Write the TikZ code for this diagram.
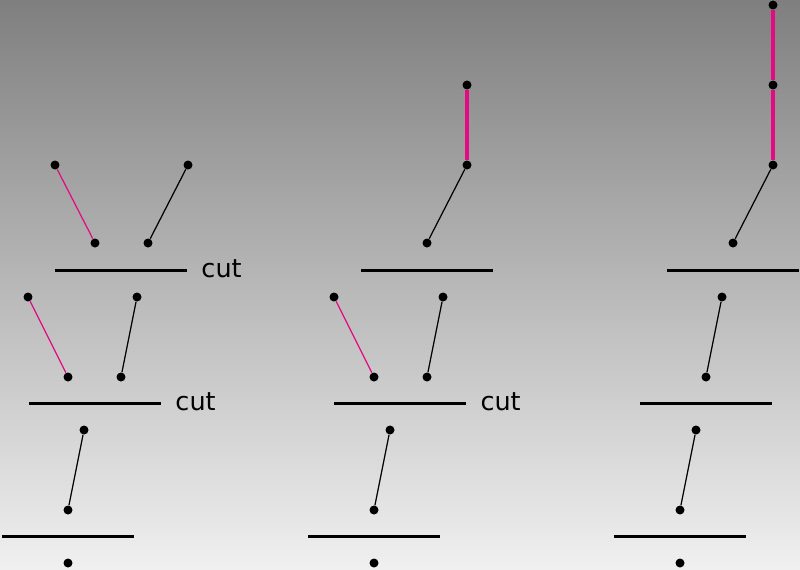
\documentclass[tikz,border=0pt]{standalone}
\usepackage{fontspec}
\setmainfont{DejaVu Sans}
\usetikzlibrary{calc}
\definecolor{linkpink}{RGB}{230,10,130}
\definecolor{bgtop}{RGB}{127,127,127}
\definecolor{bgbottom}{RGB}{240,240,240}

\begin{document}
\begin{tikzpicture}[x=0.02cm, y=-0.02cm]
  \tikzset{
    joint/.style={circle, fill=black, inner sep=0pt, minimum size=0.18cm},
    cutline/.style={line width=1.7pt, black},
    thinlink/.style={line width=0.7pt},
    fixedlink/.style={line width=1.8pt, linkpink},
    cutlabel/.style={anchor=base west, inner sep=0pt, font=\fontsize{14.5}{17}\selectfont},
  }
  \shade[top color=bgtop, bottom color=bgbottom] (0,0) rectangle (800,569);
  \useasboundingbox (0,0) rectangle (800,569);
  % left column
  \node[joint] (A1) at (55,165) {};
  \node[joint] (A2) at (188,165) {};
  \node[joint] (A3) at (95,243) {};
  \node[joint] (A4) at (148,243) {};
  \coordinate (AL) at (55,270);
  \coordinate (AR) at (187,270);
  \node[joint] (B1) at (28,297) {};
  \node[joint] (B2) at (137,297) {};
  \node[joint] (B3) at (68,377) {};
  \node[joint] (B4) at (121,377) {};
  \coordinate (BL) at (29,403);
  \coordinate (BR) at (161,403);
  \node[joint] (C1) at (84,430) {};
  \node[joint] (C2) at (68,510) {};
  \coordinate (CL) at (2,536);
  \coordinate (CR) at (134,536);
  \node[joint] (C3) at (68,563) {};
  \draw[thinlink, linkpink] (A1)--(A3);
  \draw[thinlink] (A2)--(A4);
  \draw[cutline] (AL)--(AR) node[cutlabel, xshift=0.26cm, yshift=-0.14cm] (cutA) {cut};
  \draw[thinlink, linkpink] (B1)--(B3);
  \draw[thinlink] (B2)--(B4);
  \draw[cutline] (BL)--(BR) node[cutlabel, xshift=0.26cm, yshift=-0.14cm] (cutB) {cut};
  \draw[thinlink] (C1)--(C2);
  \draw[cutline] (CL)--(CR);
  % middle column
  \node[joint] (D0) at (467,85) {};
  \node[joint] (D1) at (467,165) {};
  \node[joint] (D2) at (427,243) {};
  \coordinate (DL) at (361,270);
  \coordinate (DR) at (493,270);
  \node[joint] (E1) at (334,297) {};
  \node[joint] (E2) at (443,297) {};
  \node[joint] (E3) at (374,377) {};
  \node[joint] (E4) at (427,377) {};
  \coordinate (EL) at (334,403);
  \coordinate (ER) at (466,403);
  \node[joint] (F1) at (390,430) {};
  \node[joint] (F2) at (374,510) {};
  \coordinate (FL) at (308,536);
  \coordinate (FR) at (440,536);
  \node[joint] (F3) at (374,563) {};
  \draw[fixedlink] (D0)--(D1);
  \draw[thinlink] (D1)--(D2);
  \draw[cutline] (DL)--(DR);
  \draw[thinlink, linkpink] (E1)--(E3);
  \draw[thinlink] (E2)--(E4);
  \draw[cutline] (EL)--(ER) node[cutlabel, xshift=0.26cm, yshift=-0.14cm] (cutE) {cut};
  \draw[thinlink] (F1)--(F2);
  \draw[cutline] (FL)--(FR);
  % right column
  \node[joint] (G0) at (773,5) {};
  \node[joint] (G1) at (773,85) {};
  \node[joint] (G2) at (773,165) {};
  \node[joint] (G3) at (733,243) {};
  \coordinate (GL) at (667,270);
  \coordinate (GR) at (799,270);
  \node[joint] (H1) at (722,297) {};
  \node[joint] (H2) at (706,377) {};
  \coordinate (HL) at (640,403);
  \coordinate (HR) at (772,403);
  \node[joint] (K1) at (696,430) {};
  \node[joint] (K2) at (680,510) {};
  \coordinate (KL) at (614,536);
  \coordinate (KR) at (746,536);
  \node[joint] (K3) at (680,563) {};
  \draw[fixedlink] (G0)--(G1)--(G2);
  \draw[thinlink] (G2)--(G3);
  \draw[cutline] (GL)--(GR);
  \draw[thinlink] (H1)--(H2);
  \draw[cutline] (HL)--(HR);
  \draw[thinlink] (K1)--(K2);
  \draw[cutline] (KL)--(KR);
\end{tikzpicture}
\end{document}
